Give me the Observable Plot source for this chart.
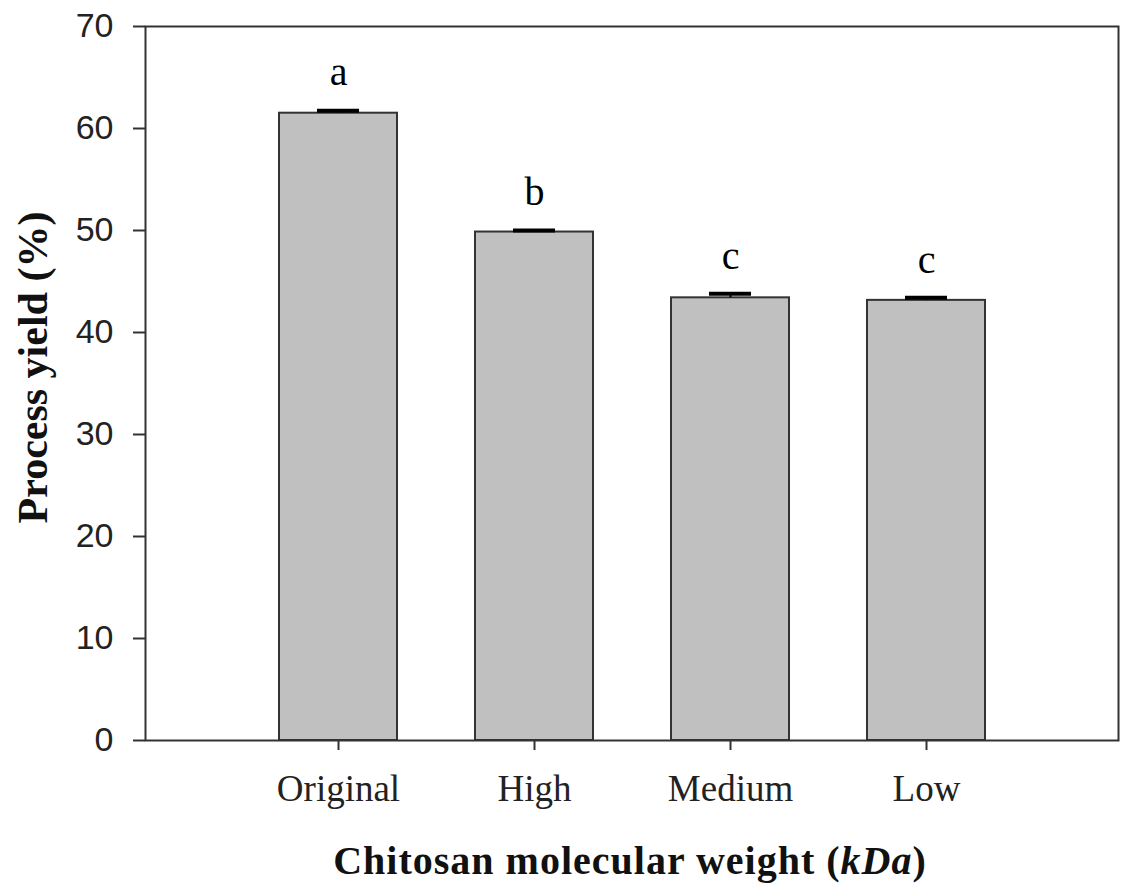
<!DOCTYPE html>
<html>
<head>
<meta charset="utf-8">
<script src="https://cdn.jsdelivr.net/npm/d3@7"></script>
<script src="https://cdn.jsdelivr.net/npm/@observablehq/plot@0.6"></script>
<style>
  html, body { margin: 0; padding: 0; background: #fff; }
  #chart svg { display: block; }
</style>
</head>
<body>
<div id="chart"></div>
<script>
// Process yield of chitosan by molecular weight class
const categories = ["Original", "High", "Medium", "Low"];
const yieldMean = [61.5, 49.85, 43.4, 43.15];
const yieldErr = [0.25, 0.15, 0.4, 0.25];
const groupLetters = ["a", "b", "c", "c"];
const yTicks = [0, 10, 20, 30, 40, 50, 60, 70];

const rows = categories.map((c, i) => ({
  cat: c,
  mean: yieldMean[i],
  top: yieldMean[i] + yieldErr[i],
  letter: groupLetters[i]
}));

const serif = "'Liberation Serif', 'Times New Roman', Times, serif";
const sans = "'Liberation Sans', Arial, Helvetica, sans-serif";

const chart = Plot.plot({
  width: 1121,
  height: 888,
  marginLeft: 145,
  marginRight: 3,
  marginTop: 26,
  marginBottom: 148,
  style: { fontFamily: serif, fontSize: "36px", color: "#222", background: "#fff" },
  x: { type: "band", domain: categories, paddingInner: 0.4, paddingOuter: 0.68, label: null },
  y: { domain: [0, 70], ticks: yTicks, label: null },
  marks: [
    Plot.barY(rows, { x: "cat", y: "mean", fill: "#c0c0c0", stroke: "#333", strokeWidth: 2 }),
    Plot.ruleX(rows, { x: "cat", y1: "mean", y2: "top", stroke: "#000", strokeWidth: 2 }),
    Plot.tickY(rows, { x: "cat", y: "top", stroke: "#000", strokeWidth: 4, insetLeft: 38, insetRight: 38 }),
    Plot.text(rows, { x: "cat", y: "top", text: "letter", dy: -38, fontSize: 40, fill: "#000" }),
    Plot.frame({ stroke: "#333", strokeWidth: 2 }),
    Plot.axisY({ ticks: yTicks, tickSize: 12, tickPadding: 20, tickFormat: d => d, fontSize: 34, fontFamily: sans, stroke: "#333", strokeWidth: 2 }),
    Plot.axisX({ tickSize: 10, tickPadding: 24, fontSize: 37, stroke: "#333", strokeWidth: 2 }),
    Plot.text(["Process yield (%)"], {
      frameAnchor: "left", textAnchor: "middle", dx: -112, dy: -16, rotate: -90,
      fontSize: 42, fontWeight: "bold", fill: "#111",
      letterSpacing: "4px"
    })
  ]
});

// x-axis title with the unit in italics
const svg = d3.select(chart);
const xTitle = svg.append("text")
  .attr("x", 630)
  .attr("y", 874)
  .attr("text-anchor", "middle")
  .attr("font-family", serif)
  .attr("font-size", 40)
  .attr("font-weight", "bold")
  .attr("letter-spacing", "1px")
  .attr("fill", "#111");
xTitle.append("tspan").text("Chitosan molecular weight (");
xTitle.append("tspan").attr("font-style", "italic").text("kDa");
xTitle.append("tspan").text(")");

document.getElementById("chart").appendChild(chart);
</script>
</body>
</html>
